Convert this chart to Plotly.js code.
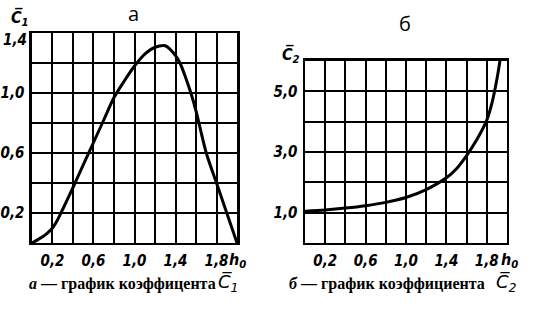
<!DOCTYPE html>
<html><head><meta charset="utf-8">
<script src="https://cdn.plot.ly/plotly-3.0.1.min.js"></script>
<style>html,body{margin:0;padding:0;background:#fff}#chart{width:543px;height:312px}</style>
</head><body><div id="chart"></div>
<script>
// Chart a: coefficient C1 vs h0
const hA = [0,0.1,0.15,0.2,0.25,0.3,0.4,0.5,0.6,0.7,0.8,0.9,1.0,1.1,1.2,1.3,1.4,1.45,1.5,1.55,1.6,1.7,1.8,1.9,2.0];
const c1 = [0,0.04,0.066,0.1,0.155,0.225,0.37,0.52,0.67,0.82,0.97,1.08,1.18,1.26,1.305,1.315,1.25,1.19,1.1,1.0,0.88,0.6,0.4,0.2,0];
// Chart b: coefficient C2 vs h0
const hB = [0,0.2,0.4,0.6,0.8,1.0,1.2,1.4,1.5,1.6,1.7,1.8,1.85,1.9,1.93];
const c2 = [1.05,1.09,1.15,1.23,1.34,1.5,1.76,2.15,2.45,2.88,3.4,4.05,4.6,5.4,6.0];
// ticks
const xTicks = [0.2,0.4,0.6,0.8,1.0,1.2,1.4,1.6,1.8];
const xLabels = ['0,2','','0,6','','1,0','','1,4','','1,8'];
const yATicks = [0.2,0.4,0.6,0.8,1.0,1.2,1.4];
const yALabels = ['0,2','','0,6','','1,0','',''];
const yATopValue = 1.4;
const yATopLabel = '1,4';
const yBTicks = [1,2,3,4,5];
const yBLabels = ['1,0','','3,0','','5,0'];
const titles = ['а','б'];
const captions = ['<i>а</i> — график коэффицента', '<i>б</i> — график коэффициента'];

const tickFont = {family:'Liberation Sans Narrow, DejaVu Sans Condensed, sans-serif', size:15, weight:'bold', style:'italic', color:'#000'};
const lineCurve = {color:'#000', width:3, shape:'spline', smoothing:0.8};

const data = [
  {x:hA, y:c1, xaxis:'x', yaxis:'y', mode:'lines', line:lineCurve, hoverinfo:'skip'},
  {x:hB, y:c2, xaxis:'x2', yaxis:'y2', mode:'lines', line:lineCurve, hoverinfo:'skip'}
];
function xax(dom, anchor){
  return {domain:dom, anchor:anchor, range:[0,2], tickvals:xTicks, ticktext:xLabels, tickfont:tickFont,
    showgrid:true, gridcolor:'#000', gridwidth:2, showline:true, mirror:true, linecolor:'#000', linewidth:2.5,
    zeroline:false, ticks:'outside', ticklen:3, tickcolor:'rgba(0,0,0,0)', fixedrange:true};
}
function yax(dom, anchor, rng, tv, tt){
  return {domain:dom, anchor:anchor, range:rng, tickvals:tv, ticktext:tt, tickfont:tickFont,
    showgrid:true, gridcolor:'#000', gridwidth:2, showline:true, mirror:true, linecolor:'#000', linewidth:2.5,
    zeroline:false, ticks:'outside', ticklen:2, tickcolor:'rgba(0,0,0,0)', fixedrange:true};
}
const capFont = {family:'Liberation Serif, serif', size:16, weight:'bold', color:'#000'};
const cFont = {family:'DejaVu Sans, sans-serif', size:18, style:'italic', color:'#000'};
const labFont = {family:'Liberation Sans Narrow, DejaVu Sans Condensed, sans-serif', size:16, weight:'bold', style:'italic', color:'#000'};
function ann(text, x, y, font, xa){
  return {text:text, xref:'paper', yref:'paper', x:x/543, y:1-y/312, xanchor:xa||'center', yanchor:'middle', showarrow:false, font:font};
}
const titleFont = {family:'Open Sans, sans-serif', size:20, color:'#000'};
const layout = {
  width:543, height:312, margin:{l:0,r:0,t:0,b:0}, showlegend:false,
  paper_bgcolor:'#fff', plot_bgcolor:'#fff',
  xaxis: xax([0.0589,0.4365],'y'),
  yaxis: yax([0.2212,0.8942],'x',[0,1.4],yATicks,yALabels),
  xaxis2: xax([0.5617,0.9337],'y2'),
  yaxis2: yax([0.2212,0.8045],'x2',[0,6],yBTicks,yBLabels),
  annotations:[
    ann(titles[0], 133, 14, titleFont),
    ann(titles[1], 405, 24, titleFont),
    ann('C\u0305<sub>1</sub>', 20, 18, labFont),
    ann('C\u0305<sub>2</sub>', 291, 55, labFont),
    {text:yATopLabel, xref:'x domain', yref:'y', x:0, y:yATopValue, xanchor:'right', yanchor:'middle', xshift:-3, yshift:-7, showarrow:false, font:tickFont},
    ann('h<sub>0</sub>', 237, 260, labFont),
    ann('h<sub>0</sub>', 509, 260, labFont),
    ann(captions[0], 27, 284, capFont, 'left'),
    ann(captions[1], 287, 284, capFont, 'left'),
    ann('C\u0305<sub>1</sub>', 228, 283, cFont),
    ann('C\u0305<sub>2</sub>', 506, 283, cFont)
  ]
};
Plotly.newPlot('chart', data, layout, {staticPlot:true, displayModeBar:false});
</script></body></html>
